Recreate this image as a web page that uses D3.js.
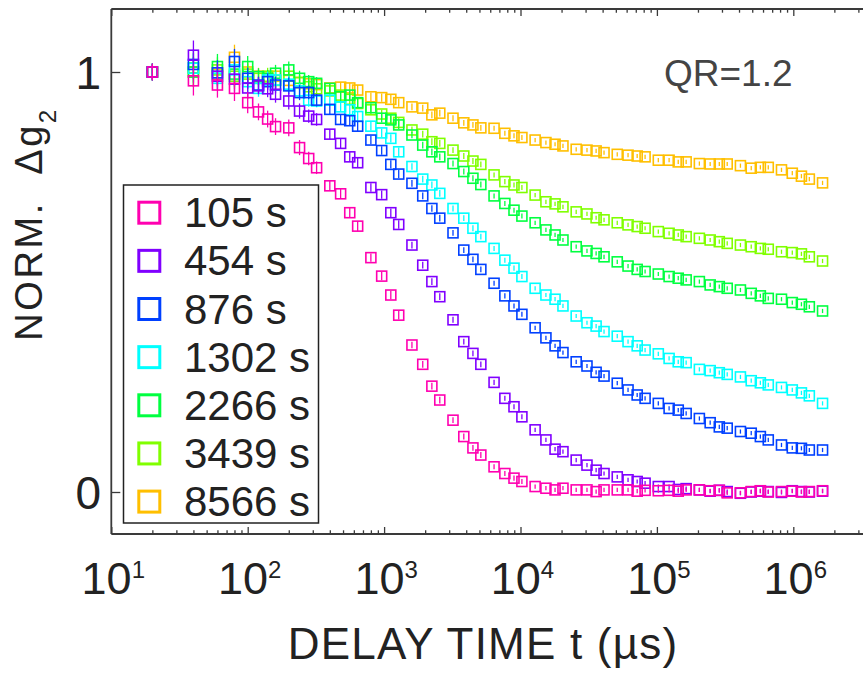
<!DOCTYPE html>
<html>
<head>
<meta charset="utf-8">
<script src="https://cdn.jsdelivr.net/npm/d3@7/dist/d3.min.js"></script>
<style>
  html, body { margin: 0; padding: 0; background: #fff; }
  svg { display: block; }
  text { font-family: "Liberation Sans", Arial, Helvetica, sans-serif; }
</style>
</head>
<body>
<svg id="chart" width="863" height="673"></svg>
<script>
// Delay times (µs) of the multi-tau correlator channels
const delayTimes = [20, 40, 60, 80,
  100, 120, 140, 160, 200, 240, 280, 320, 400, 480, 560, 640,
  800, 960, 1120, 1280, 1600, 1920, 2240, 2560, 3200, 3840, 4480, 5120,
  6400, 7680, 8960, 10240, 12800, 15360, 17920, 20480, 25600, 30720, 35840, 40960,
  51200, 61440, 71680, 81920, 102400, 122880, 143360, 163840,
  204800, 245760, 286720, 327680, 409600, 491520, 573440, 655360,
  819200, 983040, 1146880, 1310720, 1638400];

// Half-length of the error bar at each delay channel
const errBars = [0.02, 0.035, 0.03, 0.03, 0.025, 0.02, 0.02, 0.02, 0.02, 0.018, 0.016, 0.015,
  0.012, 0.012, 0.012, 0.012, 0.01, 0.01, 0.01, 0.01, 0.008, 0.008, 0.008, 0.008,
  0.007, 0.007, 0.007, 0.007, 0.006, 0.006, 0.006, 0.006, 0.005, 0.005, 0.005, 0.005,
  0.005, 0.005, 0.005, 0.005, 0.005, 0.005, 0.005, 0.005, 0.005, 0.005, 0.005, 0.005,
  0.005, 0.005, 0.005, 0.005, 0.005, 0.005, 0.005, 0.005, 0.005, 0.005, 0.005, 0.005, 0.005];

const seriesLabels = ["105 s", "454 s", "876 s", "1302 s", "2266 s", "3439 s", "8566 s"];
const seriesColors = ["#ff00b0", "#8000ff", "#0040ff", "#00ffff", "#00ff40", "#80ff00", "#ffbf00"];

const g105 = [1.000, 0.979, 0.969, 0.961, 0.927, 0.905, 0.888, 0.870, 0.867, 0.820, 0.794, 0.772,
  0.729, 0.710, 0.665, 0.633, 0.558, 0.514, 0.469, 0.421, 0.350, 0.304, 0.252, 0.219,
  0.171, 0.132, 0.105, 0.088, 0.060, 0.044, 0.033, 0.025, 0.013, 0.009, 0.005, 0.009,
  0.005, 0.005, 0.001, 0.005, 0.005, 0.005, 0.002, 0.004, 0.003, 0.004, 0.002, 0.005,
  0.005, 0.003, 0.004, -0.002, -0.002, 0.001, 0.003, 0.000, 0.001, 0.002, 0.000, 0.001, 0.003];

const g454 = [1.000, 1.040, 0.990, 0.983, 0.962, 0.967, 0.960, 0.947, 0.931, 0.907, 0.895, 0.887,
  0.852, 0.830, 0.798, 0.784, 0.725, 0.708, 0.665, 0.637, 0.588, 0.540, 0.501, 0.465,
  0.410, 0.358, 0.330, 0.304, 0.261, 0.223, 0.203, 0.179, 0.148, 0.124, 0.102, 0.096,
  0.076, 0.064, 0.052, 0.044, 0.036, 0.029, 0.025, 0.021, 0.013, 0.013, 0.006, 0.008,
  0.005, 0.002, 0.004, 0.001, -0.003, 0.000, 0.002, 0.001, -0.001, 0.003, 0.001, 0.000, 0.002];

const g876 = [1.000, 1.018, 0.998, 1.025, 0.985, 0.969, 0.977, 0.969, 0.967, 0.951, 0.951, 0.933,
  0.911, 0.887, 0.884, 0.871, 0.838, 0.813, 0.780, 0.757, 0.735, 0.705, 0.675, 0.652,
  0.617, 0.576, 0.554, 0.530, 0.497, 0.467, 0.443, 0.423, 0.391, 0.367, 0.348, 0.332,
  0.310, 0.300, 0.285, 0.276, 0.259, 0.243, 0.231, 0.223, 0.211, 0.199, 0.195, 0.187,
  0.175, 0.165, 0.155, 0.152, 0.144, 0.140, 0.132, 0.124, 0.112, 0.105, 0.104, 0.100, 0.100];

const g1302 = [1.000, 1.009, 0.985, 1.005, 0.977, 0.961, 0.981, 0.981, 0.971, 0.955, 0.933, 0.931,
  0.933, 0.917, 0.910, 0.894, 0.871, 0.855, 0.842, 0.810, 0.775, 0.745, 0.731, 0.711,
  0.675, 0.652, 0.628, 0.608, 0.580, 0.552, 0.533, 0.513, 0.485, 0.469, 0.459, 0.443,
  0.419, 0.403, 0.395, 0.382, 0.371, 0.358, 0.348, 0.338, 0.329, 0.318, 0.310, 0.308,
  0.292, 0.289, 0.284, 0.280, 0.274, 0.265, 0.260, 0.255, 0.249, 0.243, 0.236, 0.229, 0.211];

const g2266 = [1.000, 1.000, 1.013, 0.995, 1.013, 0.989, 0.985, 0.997, 1.005, 0.985, 0.977, 0.973,
  0.961, 0.941, 0.945, 0.927, 0.915, 0.890, 0.886, 0.874, 0.850, 0.826, 0.810, 0.798,
  0.782, 0.763, 0.747, 0.732, 0.705, 0.687, 0.671, 0.657, 0.641, 0.624, 0.612, 0.600,
  0.584, 0.574, 0.568, 0.560, 0.548, 0.538, 0.530, 0.525, 0.519, 0.513, 0.509, 0.505,
  0.501, 0.493, 0.489, 0.485, 0.481, 0.473, 0.467, 0.461, 0.459, 0.451, 0.447, 0.441, 0.431];

const g3439 = [1.000, 1.010, 1.005, 0.990, 0.995, 0.985, 0.990, 0.980, 0.990, 0.975, 0.965, 0.960,
  0.955, 0.945, 0.935, 0.925, 0.910, 0.900, 0.890, 0.880, 0.862, 0.852, 0.834, 0.830,
  0.814, 0.800, 0.788, 0.780, 0.755, 0.739, 0.731, 0.725, 0.707, 0.691, 0.686, 0.679,
  0.667, 0.662, 0.653, 0.648, 0.641, 0.636, 0.632, 0.628, 0.620, 0.616, 0.612, 0.608,
  0.604, 0.600, 0.596, 0.592, 0.588, 0.584, 0.580, 0.578, 0.572, 0.570, 0.567, 0.560, 0.550];

const g8566 = [1.000, 1.000, 0.995, 1.035, 1.000, 0.990, 0.985, 0.990, 0.980, 0.975, 0.972, 0.970,
  0.962, 0.964, 0.962, 0.957, 0.941, 0.939, 0.935, 0.927, 0.917, 0.914, 0.898, 0.902,
  0.890, 0.879, 0.874, 0.867, 0.866, 0.854, 0.848, 0.844, 0.838, 0.832, 0.828, 0.824,
  0.816, 0.814, 0.812, 0.808, 0.804, 0.802, 0.800, 0.798, 0.790, 0.790, 0.786, 0.786,
  0.782, 0.781, 0.781, 0.781, 0.777, 0.771, 0.773, 0.773, 0.767, 0.759, 0.752, 0.745, 0.736];

const seriesValues = [g105, g454, g876, g1302, g2266, g3439, g8566];

const xTickExponents = [1, 2, 3, 4, 5, 6];
const yTickValues = [0, 1];

const svg = d3.select("#chart");
const W = 863;
const plotLeft = 111.3, plotTop = 9, plotBottom = 534;
const decade = 136.4;

const x = d3.scaleLog().domain([10, 1e7]).range([plotLeft, plotLeft + 6 * decade]);
const y = d3.scaleLinear().domain([-0.1, 1.15]).range([plotBottom, plotTop]);

const axisColor = "#3a3a3a";

// Tick positions: decades and their 2..9 sub-divisions
const majorTicks = d3.range(1, 8).map(e => Math.pow(10, e));
const minorTicks = [];
d3.range(1, 7).forEach(e => { for (let m = 2; m <= 9; m++) minorTicks.push(m * Math.pow(10, e)); });

function styleAxis(g) {
  g.select(".domain").remove();
  g.selectAll(".tick line").attr("stroke", axisColor).attr("stroke-width", 1.3);
  g.selectAll(".tick text").remove();
}

// bottom axis (ticks inward)
svg.append("g").attr("transform", `translate(0,${plotBottom})`)
  .call(d3.axisBottom(x).tickValues(majorTicks).tickSize(-7).tickFormat(""))
  .call(styleAxis);
svg.append("g").attr("transform", `translate(0,${plotBottom})`)
  .call(d3.axisBottom(x).tickValues(minorTicks).tickSize(-3.7).tickFormat(""))
  .call(styleAxis);
// top axis (ticks inward)
svg.append("g").attr("transform", `translate(0,${plotTop})`)
  .call(d3.axisTop(x).tickValues(majorTicks).tickSize(-7).tickFormat(""))
  .call(styleAxis);
svg.append("g").attr("transform", `translate(0,${plotTop})`)
  .call(d3.axisTop(x).tickValues(minorTicks).tickSize(-3.7).tickFormat(""))
  .call(styleAxis);
// left axis (ticks inward)
svg.append("g").attr("transform", `translate(${plotLeft},0)`)
  .call(d3.axisLeft(y).tickValues(yTickValues).tickSize(-9).tickFormat(""))
  .call(styleAxis);

// frame lines
const frame = svg.append("g").attr("stroke", axisColor).attr("stroke-width", 1.8).attr("fill", "none");
frame.append("line").attr("x1", plotLeft).attr("x2", plotLeft).attr("y1", plotTop).attr("y2", plotBottom);
frame.append("line").attr("x1", plotLeft).attr("x2", W + 2).attr("y1", plotTop).attr("y2", plotTop);
frame.append("line").attr("x1", plotLeft).attr("x2", W + 2).attr("y1", plotBottom).attr("y2", plotBottom);

// x tick labels with superscript exponents
xTickExponents.forEach(e => {
  const t = svg.append("text")
    .attr("x", x(Math.pow(10, e)) + 2)
    .attr("y", 594)
    .attr("text-anchor", "middle")
    .attr("font-size", 45)
    .attr("fill", "#222");
  t.append("tspan").text("10");
  t.append("tspan").attr("dy", -16).attr("font-size", 24).text(e);
});

// y tick labels
yTickValues.forEach(v => {
  svg.append("text")
    .attr("x", 101)
    .attr("y", y(v) + 16.5)
    .attr("text-anchor", "end")
    .attr("font-size", 46)
    .attr("fill", "#222")
    .text(v);
});

// axis titles
svg.append("text")
  .attr("x", 483)
  .attr("y", 659)
  .attr("text-anchor", "middle")
  .attr("font-size", 44)
  .attr("letter-spacing", 1.2)
  .attr("fill", "#222")
  .text("DELAY TIME t (\u00b5s)");

const yTitle = svg.append("text")
  .attr("transform", "translate(42,224) rotate(-90)")
  .attr("text-anchor", "middle")
  .attr("font-size", 38)
  .attr("letter-spacing", 2.6)
  .attr("fill", "#222");
yTitle.append("tspan").text("NORM.\u00a0\u00a0\u0394g");
yTitle.append("tspan").attr("dy", 14).attr("font-size", 24).text("2");

// annotation
svg.append("text")
  .attr("x", 664)
  .attr("y", 86)
  .attr("font-size", 37)
  .attr("fill", "#444")
  .text("QR=1.2");

// data markers (later ages drawn first, earliest age on top)
const plot = svg.append("g");
const half = 5;
d3.range(seriesValues.length - 1, -1, -1).forEach(si => {
  const vals = seriesValues[si];
  const pts = delayTimes.map((t, i) => ({ t, v: vals[i], e: errBars[i] }));
  const g = plot.append("g").attr("stroke", seriesColors[si]).attr("fill", "none");
  g.selectAll("line").data(pts).join("line")
    .attr("x1", d => x(d.t)).attr("x2", d => x(d.t))
    .attr("y1", d => y(d.v - d.e)).attr("y2", d => y(d.v + d.e))
    .attr("stroke-width", 1.3);
  g.selectAll("rect").data(pts).join("rect")
    .attr("x", d => x(d.t) - half).attr("y", d => y(d.v) - half)
    .attr("width", 2 * half).attr("height", 2 * half)
    .attr("stroke-width", 1.6);
});

// legend
const lgX = 123.5, lgY = 185, lgW = 195, lgH = 338, rowH = 48.15;
const legend = svg.append("g");
legend.append("rect")
  .attr("x", lgX).attr("y", lgY).attr("width", lgW).attr("height", lgH)
  .attr("fill", "#fff").attr("stroke", "#222").attr("stroke-width", 1.5);
seriesLabels.forEach((lab, i) => {
  const cy = 212.7 + i * rowH;
  legend.append("rect")
    .attr("x", 149.3 - 10.5).attr("y", cy - 10.5)
    .attr("width", 21).attr("height", 21)
    .attr("fill", "none").attr("stroke", seriesColors[i]).attr("stroke-width", 3);
  legend.append("text")
    .attr("x", 184).attr("y", cy + 14.5)
    .attr("font-size", 42).attr("fill", "#222")
    .text(lab);
});
</script>
</body>
</html>
